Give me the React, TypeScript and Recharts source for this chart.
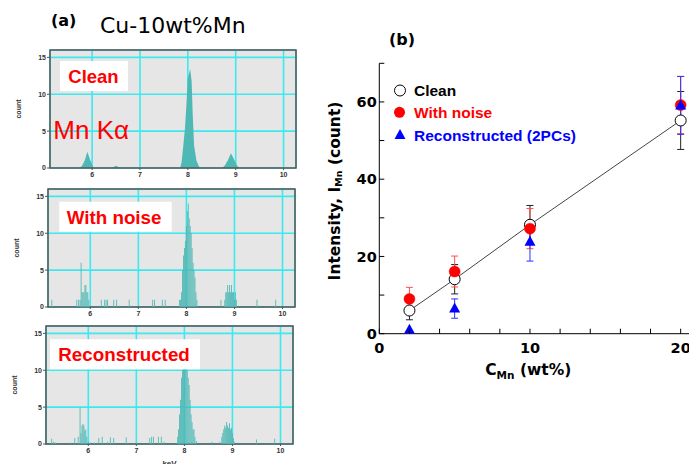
import React from 'react';
import {
  ComposedChart, Area, Bar, XAxis, YAxis, CartesianGrid, ReferenceArea,
  ScatterChart, Scatter, ErrorBar,
} from 'recharts';

// ---------- Panel (a): EDS spectra (keV vs count) ----------
const keVTicks = [6, 7, 8, 9, 10];
const countTicks = [0, 5, 10, 15];

const cleanKeV = [5.12, 5.75, 5.80, 5.85, 5.90, 5.96, 6.03, 6.40, 6.45, 6.50, 6.55, 6.60, 7.84, 7.87, 7.90, 7.94, 7.97, 8.00, 8.05, 8.08, 8.10, 8.13, 8.18, 8.25, 8.72, 8.78, 8.84, 8.90, 8.98, 9.03, 9.08, 10.26];
const cleanCount = [0, 0, 0.4, 1.1, 2.2, 1.1, 0, 0, 0.15, 0.3, 0.15, 0, 0, 0.8, 2.7, 5.4, 8.5, 12.2, 13.4, 11.7, 7.6, 3.1, 1.0, 0, 0, 0.4, 1.1, 2.0, 1.0, 0.3, 0, 0];

const noiseKeV = [5.20, 5.72, 5.76, 5.79, 5.81, 5.83, 5.85, 5.87, 5.89, 5.91, 5.93, 5.95, 5.97, 6.23, 6.30, 6.33, 6.36, 6.49, 6.55, 6.81, 7.30, 7.34, 7.50, 7.56, 7.86, 7.88, 7.90, 7.92, 7.94, 7.96, 7.98, 8.00, 8.02, 8.04, 8.06, 8.08, 8.10, 8.12, 8.14, 8.16, 8.18, 8.20, 8.22, 8.72, 8.80, 8.82, 8.84, 8.86, 8.88, 8.90, 8.92, 8.94, 8.96, 8.98, 9.00, 9.02, 9.04, 9.47, 9.86];
const noiseCount = [1, 1, 1, 1, 6, 2, 2, 2, 3, 3, 2, 2, 1, 1, 1, 1, 1, 1, 1, 1, 1, 1, 1, 1, 1, 1, 2, 5, 7, 8, 9, 11, 13, 14, 12, 11, 10, 8, 6, 5, 4, 2, 1, 1, 1, 2, 2, 3, 2, 3, 2, 3, 2, 2, 1, 2, 1, 1, 1];

const reconKeV = [5.24, 5.28, 5.32, 5.62, 5.72, 5.79, 5.83, 5.85, 5.87, 5.89, 5.91, 5.93, 5.95, 5.97, 6.00, 6.04, 6.13, 6.22, 6.29, 6.40, 6.46, 6.53, 6.79, 7.00, 7.28, 7.32, 7.36, 7.46, 7.52, 7.58, 7.86, 7.88, 7.90, 7.92, 7.94, 7.96, 7.98, 8.00, 8.02, 8.04, 8.06, 8.08, 8.10, 8.12, 8.14, 8.16, 8.18, 8.20, 8.22, 8.25, 8.58, 8.74, 8.78, 8.80, 8.82, 8.84, 8.86, 8.88, 8.90, 8.92, 8.94, 8.96, 8.98, 9.00, 9.02, 9.04, 9.50, 9.88];
const reconCount = [0.7, 0.3, 0.2, 0.2, 0.8, 1.0, 5.0, 1.5, 2.5, 2.7, 2.5, 1.8, 2.0, 1.0, 0.3, 0.2, 0.2, 0.8, 1.0, 0.3, 0.9, 0.8, 0.9, 0.2, 0.8, 1.0, 1.0, 1.0, 1.0, 0.3, 1, 2, 4, 6, 9, 10, 10.4, 10.2, 10.5, 10.3, 10, 9, 8, 6, 4, 3, 2, 2, 1, 0.4, 0.3, 0.3, 1.0, 1.5, 2.0, 2.5, 2.2, 3.0, 2.5, 2.2, 2.8, 2.0, 2.2, 1.5, 0.8, 0.3, 0.6, 0.7];

// ---------- Panel (b): intensity vs concentration ----------
const cMn = [2, 5, 10, 20];
const cleanI = [6.0, 14.1, 28.2, 55.2];
const cleanErr = [2.4, 3.8, 5.0, 7.5];
const noiseI = [9.0, 16.1, 27.2, 59.2];
const noiseErr = [3.0, 4.0, 5.2, 7.4];
const reconI = [1.0, 6.5, 23.8, 59.1];
const reconErr = [0, 2.5, 5.0, 7.5];
const xTicksB = [0, 2, 4, 6, 8, 10, 12, 14, 16, 18, 20, 22];
const yTicksB = [0, 10, 20, 30, 40, 50, 60, 70];

const mk = (e: number[], c: number[]) => e.map((v, i) => ({ e: v, c: c[i] }));
const mkPts = (y: number[], err: number[]) => cMn.map((x, i) => ({ x, y: y[i], err: err[i] }));

const TEAL = '#4db8b4';
const CYAN = '#3ce9ef';
const LIB = "'Liberation Sans', Arial, sans-serif";
const DJ = "'DejaVu Sans', sans-serif";

function Spectrum(props: any) {
  const { top, yw, right, data, kind, keV } = props;
  return (
    <div style={{ position: 'absolute', left: 0, top: top - 5 }}>
      <ComposedChart width={300} height={149} data={data}
        margin={{ top: 5, right, bottom: 0, left: 0 }}>
        <CartesianGrid fill="#e6e6e6" stroke={CYAN} strokeWidth={1.6} />
        <XAxis dataKey="e" type="number" domain={[5.12, 10.26]} ticks={keVTicks}
          allowDataOverflow interval={0} axisLine={false}
          tickLine={{ stroke: '#555' }} tickSize={2} tickMargin={2} height={26}
          tick={{ fontSize: 7, fill: '#333', fontFamily: LIB, fontWeight: 'bold' }}
          label={keV ? {
            content: (p: any) => (
              <text x={p.viewBox.x + p.viewBox.width / 2} y={p.viewBox.y + 22}
                textAnchor="middle" fontSize={8} fontWeight="bold" fontFamily={LIB} fill="#333">keV</text>
            ),
          } : undefined} />
        <YAxis type="number" domain={[0, 16]} ticks={countTicks} width={yw}
          interval={0} axisLine={false} tickLine={{ stroke: '#555' }} tickSize={3} tickMargin={1}
          tick={{ fontSize: 7, fill: '#333', fontFamily: LIB, fontWeight: 'bold' }}
          label={{
            content: (p: any) => {
              const x = p.viewBox.x + p.viewBox.width - 31;
              const y = p.viewBox.y + p.viewBox.height / 2;
              return (
                <text x={x} y={y} transform={`rotate(-90 ${x} ${y})`} textAnchor="middle"
                  dominantBaseline="middle" fontSize={7} fontWeight="bold" fontFamily={LIB} fill="#333">count</text>
              );
            },
          }} />
        {kind === 'area' ? (
          <Area dataKey="c" type="linear" fill={TEAL} fillOpacity={1} stroke="none" isAnimationActive={false} />
        ) : (
          <Bar dataKey="c" fill={TEAL} barSize={1.6} isAnimationActive={false} />
        )}
        <ReferenceArea x1={5.12} x2={10.26} y1={0} y2={16} fill="none" fillOpacity={0}
          stroke="#555" strokeWidth={1.5} ifOverflow="visible" />
      </ComposedChart>
    </div>
  );
}

const BottomTick = (p: any) => {
  const v = p.payload.value;
  return (
    <g>
      <line x1={p.x} x2={p.x} y1={p.y} y2={p.y - 5} stroke="#000" strokeWidth={1} />
      {v % 10 === 0 ? (
        <text x={p.x} y={p.y + 19} textAnchor="middle" fontFamily={DJ} fontWeight="bold" fontSize={14.5} fill="#000">{v}</text>
      ) : null}
    </g>
  );
};
const TopTick = (p: any) => (
  <line x1={p.x} x2={p.x} y1={p.y} y2={p.y + 5} stroke="#000" strokeWidth={1} />
);
const LeftTick = (p: any) => {
  const v = p.payload.value;
  return (
    <g>
      <line x1={p.x} x2={p.x + 5} y1={p.y} y2={p.y} stroke="#000" strokeWidth={1} />
      {v % 20 === 0 ? (
        <text x={p.x - 2.5} y={p.y + 5.2} textAnchor="end" fontFamily={DJ} fontWeight="bold" fontSize={14.5} fill="#000">{v}</text>
      ) : null}
    </g>
  );
};

const OpenCircle = (p: any) => <circle cx={p.cx} cy={p.cy} r={5.5} fill="#fff" stroke="#000" strokeWidth={1} />;
const RedDot = (p: any) => <circle cx={p.cx} cy={p.cy} r={5.5} fill="#ff0000" stroke="#ff0000" strokeWidth={0.5} />;
const BlueTri = (p: any) => (
  <polygon points={`${p.cx},${p.cy - 6} ${p.cx - 5.5},${p.cy + 4} ${p.cx + 5.5},${p.cy + 4}`} fill="#0000ff" />
);

export default function App() {
  return (
    <div style={{ position: 'absolute', left: 0, top: 0, width: 689, height: 464, overflow: 'hidden', background: '#fff' }}>
      <Spectrum top={50} yw={50} right={4} data={mk(cleanKeV, cleanCount)} kind="area" />
      <Spectrum top={189} yw={48} right={5} data={mk(noiseKeV, noiseCount)} kind="bar" />
      <Spectrum top={326} yw={46} right={7} data={mk(reconKeV, reconCount)} kind="bar" keV />

      <div style={{ position: 'absolute', left: 300, top: 30 }}>
        <ScatterChart width={420} height={360} margin={{ top: 33.3, right: 9.2, bottom: 0, left: 0 }}>
          <XAxis dataKey="x" type="number" domain={[0, 22]} ticks={xTicksB} interval={0}
            allowDataOverflow height={56.3} stroke="#000" tickSize={0} tickMargin={0}
            tick={BottomTick}
            label={{
              content: (p: any) => {
                const x = p.viewBox.x + 149;
                const y = p.viewBox.y + 41;
                return (
                  <text x={x} y={y} textAnchor="middle" fontFamily={DJ} fontWeight="bold" fontSize={15.5} fill="#000">
                    C<tspan dy={4} fontSize={10.5}>Mn</tspan><tspan dy={-4}> (wt%)</tspan>
                  </text>
                );
              },
            }} />
          <XAxis xAxisId="top" orientation="top" dataKey="x" type="number" domain={[0, 22]}
            ticks={xTicksB} interval={0} allowDataOverflow height={0} stroke="#000"
            tickSize={0} tickMargin={0} tick={TopTick} />
          <YAxis dataKey="y" type="number" domain={[0, 70]} ticks={yTicksB} interval={0}
            allowDataOverflow width={79.3} stroke="#000" tickSize={0} tickMargin={0}
            tick={LeftTick}
            label={{
              content: (p: any) => {
                const x = p.viewBox.x + 35;
                const y = p.viewBox.y + p.viewBox.height / 2 - 7.5;
                return (
                  <text x={x} y={y} transform={`rotate(-90 ${x} ${y})`} textAnchor="middle"
                    dominantBaseline="middle" fontFamily={DJ} fontWeight="bold" fontSize={15.5} fill="#000">
                    Intensity, I<tspan dy={4} fontSize={9.5}>Mn</tspan><tspan dy={-4}> (count)</tspan>
                  </text>
                );
              },
            }} />
          <Scatter data={mkPts(cleanI, cleanErr)} shape={OpenCircle} line={{ stroke: '#444', strokeWidth: 1 }}
            isAnimationActive={false}>
            <ErrorBar dataKey="err" direction="y" width={3.5} stroke="#222" strokeWidth={1} />
          </Scatter>
          <Scatter data={mkPts(noiseI, noiseErr)} shape={RedDot} isAnimationActive={false}>
            <ErrorBar dataKey="err" direction="y" width={3.5} stroke="#ff5050" strokeWidth={1} />
          </Scatter>
          <Scatter data={mkPts(reconI, reconErr)} shape={BlueTri} isAnimationActive={false}>
            <ErrorBar dataKey="err" direction="y" width={3.5} stroke="#3030ff" strokeWidth={1} />
          </Scatter>
        </ScatterChart>
      </div>

      <svg width={689} height={464} style={{ position: 'absolute', left: 0, top: 0, pointerEvents: 'none' }}>
        <text x={51} y={26} fontFamily={DJ} fontWeight="bold" fontSize={16} fill="#000">(a)</text>
        <text x={100} y={33} fontFamily={DJ} fontSize={22} fill="#000">Cu-10wt%Mn</text>
        <text x={389} y={45} fontFamily={DJ} fontWeight="bold" fontSize={16} fill="#000">(b)</text>

        <rect x={60} y={61} width={68} height={30} fill="#fff" />
        <text x={68.3} y={82.5} fontFamily={LIB} fontWeight="bold" fontSize={18.5} fill="#ff0000">Clean</text>
        <rect x={59.3} y={201.7} width={112.4} height={30} fill="#fff" />
        <text x={66.7} y={224} fontFamily={LIB} fontWeight="bold" fontSize={18.8} fill="#ff0000">With noise</text>
        <rect x={50} y={339.3} width={150} height={30} fill="#fff" />
        <text x={58.3} y={361} fontFamily={LIB} fontWeight="bold" fontSize={18.8} fill="#ff0000">Reconstructed</text>
        <text x={53.3} y={139.3} fontFamily={LIB} fontSize={26} fill="#ff0000">Mn Kα</text>

        <circle cx={400} cy={90.5} r={5.5} fill="#fff" stroke="#000" strokeWidth={1} />
        <text x={414} y={96} fontFamily={LIB} fontWeight="bold" fontSize={15.5} fill="#000">Clean</text>
        <circle cx={399.5} cy={112.3} r={5.5} fill="#ff0000" />
        <text x={414} y={118} fontFamily={LIB} fontWeight="bold" fontSize={15.5} fill="#ff0000">With noise</text>
        <polygon points="400,129 394.5,139 405.5,139" fill="#0000ff" />
        <text x={414} y={140.5} fontFamily={LIB} fontWeight="bold" fontSize={15.5} fill="#0000ff">Reconstructed (2PCs)</text>
      </svg>
    </div>
  );
}
